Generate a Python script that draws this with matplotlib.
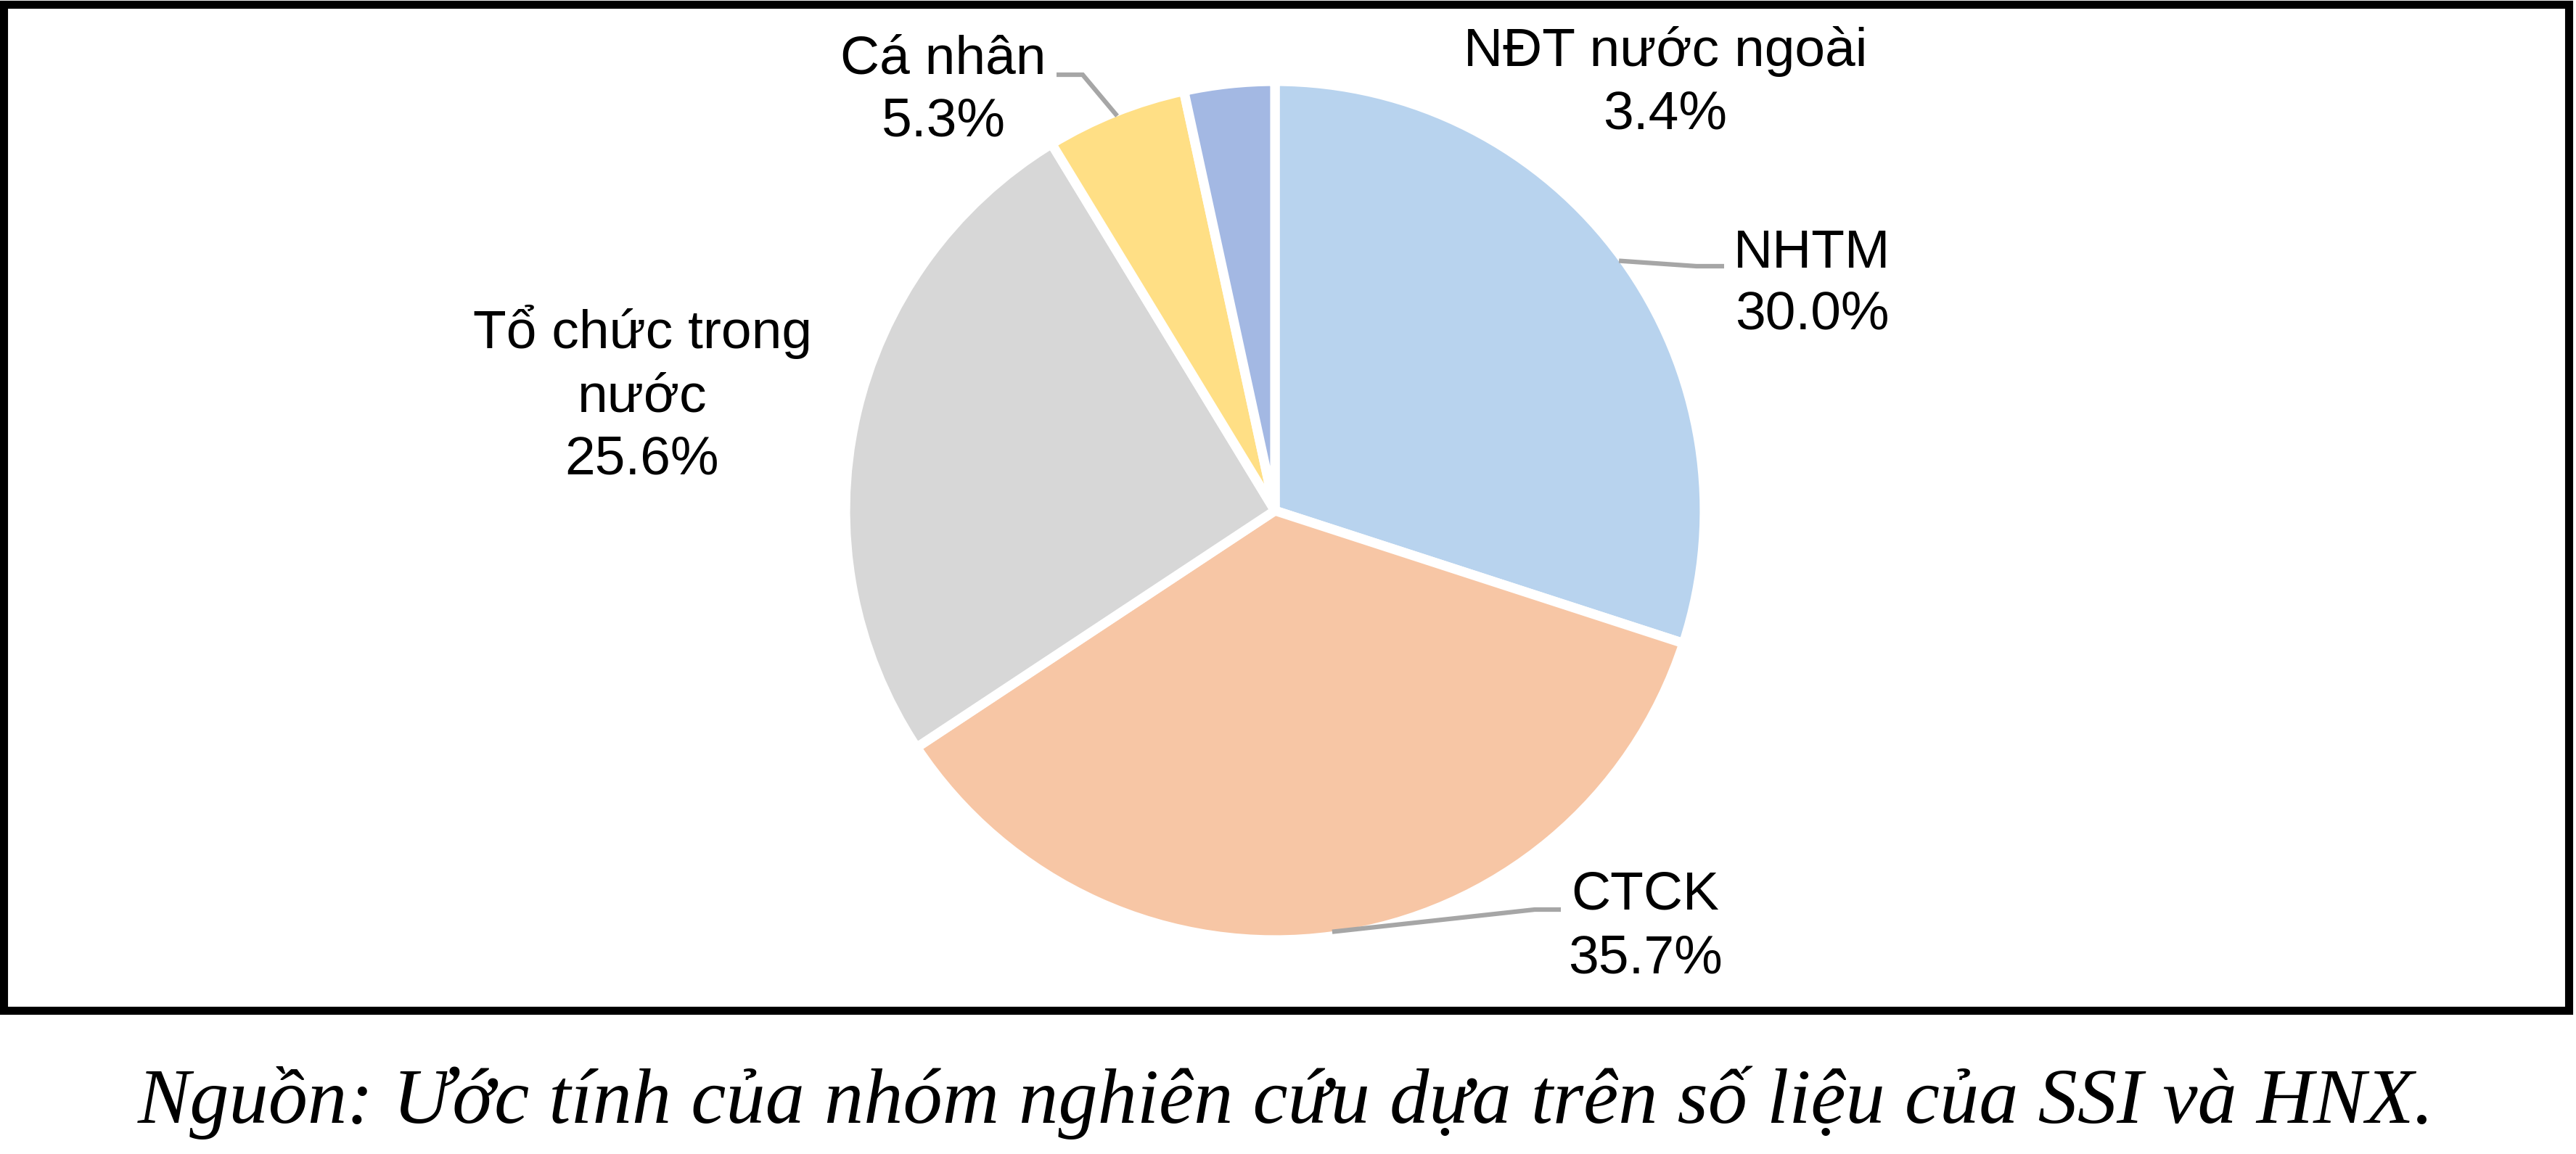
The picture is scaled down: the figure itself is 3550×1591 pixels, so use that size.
import matplotlib
matplotlib.use('Agg')
import matplotlib.pyplot as plt
import numpy as np
from matplotlib.patches import Rectangle

# canvas in pixels
W, H = 3550, 1591
DPI = 100

# data
categories = ['NHTM', 'CTCK', 'Tổ chức trong nước', 'Cá nhân', 'NĐT nước ngoài']
shares = [30.0, 35.7, 25.6, 5.3, 3.4]
label_lines = [
    ['NHTM', '30.0%'],
    ['CTCK', '35.7%'],
    ['Tổ chức trong', 'nước', '25.6%'],
    ['Cá nhân', '5.3%'],
    ['NĐT nước ngoài', '3.4%'],
]
colors = ['#B8D3EE', '#F7C6A5', '#D7D7D7', '#FFDF85', '#A3B8E3']
source = 'Nguồn: Ước tính của nhóm nghiên cứu dựa trên số liệu của SSI và HNX.'

# layout (pixel coords, y from top)
CENTER = (1757, 704)
RADIUS = 592
# label centre x and baseline of each line
label_pos = [
    (2497, [369, 454]),
    (2267, [1254, 1342]),
    (885, [480, 568, 653]),
    (1300, [102, 188]),
    (2295, [91, 178]),
]
# leader line: elbow and end point, None for no leader
leaders = [
    [(2338, 367), (2376, 367)],
    [(2115, 1254), (2151, 1254)],
    None,
    [(1492, 103), (1456, 103)],
    None,
]

LABEL_FONT = 'Liberation Sans'
SOURCE_FONT = 'Liberation Serif'


def py(y):
    # flip pixel y to data y
    return H - y


fig = plt.figure(figsize=(W / DPI, H / DPI), dpi=DPI)
ax = fig.add_axes([0, 0, 1, 1])

wedges, _ = ax.pie(
    shares,
    colors=colors,
    startangle=90,
    counterclock=False,
    center=(CENTER[0], py(CENTER[1])),
    radius=RADIUS,
    wedgeprops=dict(edgecolor='white', linewidth=9.5, joinstyle='round'),
    frame=True,
)

for i, w in enumerate(wedges):
    x, ys = label_pos[i]
    for line, yb in zip(label_lines[i], ys):
        ax.text(x, py(yb), line, ha='center', va='baseline',
                fontsize=54, family=LABEL_FONT, color='black')
    if leaders[i] is not None:
        mid = np.deg2rad((w.theta1 + w.theta2) / 2)
        r_vis = RADIUS - 6
        x0 = CENTER[0] + r_vis * np.cos(mid)
        y0 = py(CENTER[1]) + r_vis * np.sin(mid)
        xs = [x0] + [p[0] for p in leaders[i]]
        yy = [y0] + [py(p[1]) for p in leaders[i]]
        ax.plot(xs, yy, color='#A6A6A6', lw=4.5, solid_capstyle='butt',
                solid_joinstyle='miter')

# frame box around the chart
ax.add_patch(Rectangle((5, py(1393)), 3535, 1387, fill=False,
                       edgecolor='black', linewidth=8))

ax.text(1772, py(1548), source, ha='center', va='baseline',
        fontsize=78, family=SOURCE_FONT, style='italic', color='black')

ax.set_xlim(0, W)
ax.set_ylim(0, H)
ax.set_aspect('equal')
ax.axis('off')

fig.savefig('out.png', dpi=DPI, facecolor='white')
plt.close()
